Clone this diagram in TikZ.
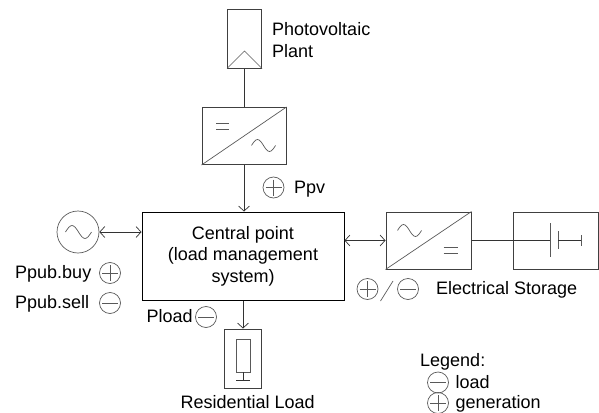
\documentclass[tikz,border=0pt]{standalone}
\usepackage{fontspec}
\setmainfont{Liberation Sans}
\usetikzlibrary{calc,arrows.meta}
\tikzset{
  box/.style={draw,line width=1pt,black!75,inner sep=0pt,minimum width=#1},
  lbl/.style={anchor=base west,inner sep=0pt,black,font=\fontsize{18}{21.5}\selectfont},
  sign/.style={circle,draw,black!65,line width=0.7pt,inner sep=0pt,minimum size=21pt},
  signplus/.style={sign,path picture={
    \draw[black!65,line width=0.7pt]
    (path picture bounding box.center)++(-8,0)--++(16,0)
    (path picture bounding box.center)++(0,-8)--++(0,16);}},
  signminus/.style={sign,path picture={
    \draw[black!65,line width=0.7pt]
    (path picture bounding box.center)++(-8,0)--++(16,0);}},
  wire/.style={line width=1pt,black!80},
  flow/.style={wire,-{Straight Barb[length=5pt,width=11pt,line width=0.7pt]}},
  flowboth/.style={wire,{Straight Barb[length=5pt,width=11pt,line width=0.7pt]}-{Straight Barb[length=5pt,width=11pt,line width=0.7pt]}},
  thin line/.style={line width=0.7pt,black!65}
}
\newcommand{\acwave}[2]{\draw[thin line](#1)++(-2*#2,0)
  sin ++(#2,-#2) cos ++(#2,#2) sin ++(#2,#2) cos ++(#2,-#2);}
\begin{document}
\begin{tikzpicture}[x=1pt,y=-1pt]
  \useasboundingbox (0,0) rectangle (599,412);

  \node[box=34pt,minimum height=58pt] (pv) at (244.5,39) {};
  \node[box=84pt,minimum height=57pt] (invpv) at (244,136) {};
  \node[box=202pt,minimum height=88pt,align=center,black,
    font=\fontsize{18}{21.5}\selectfont] (central) at (243,256)
    {Central point\\(load management\\system)};
  \node[box=85pt,minimum height=57pt] (invst) at (428.5,240.5) {};
  \node[box=85pt,minimum height=57pt] (storage) at (555.5,240.5) {};
  \node[box=37pt,minimum height=59pt] (load) at (243,358.5) {};
  \node[circle,draw,thin line,inner sep=0pt,minimum size=42pt] (grid) at (78,232) {};

  \coordinate (pvtop) at (244.5,51);
  \draw[thin line](pv.south west)--(pvtop)--(pv.south east);
  \draw[thin line](invpv.south west)--(invpv.north east);
  \draw[thin line](invst.south west)--(invst.north east);
  \draw[thin line](216,123)--(229,123)(216,129.5)--(229,129.5);
  \draw[thin line](443.5,247.5)--(457.5,247.5)(443.5,253.5)--(457.5,253.5);
  \acwave{263.5,145.5}{6}
  \acwave{409.5,230.5}{6}
  \acwave{78.5,232}{6.5}

  \draw[wire](pv.south)--(pv.south|-invpv.north);
  \draw[flow](invpv.south)--(invpv.south|-central.north);
  \draw[flowboth](grid.east)--(grid.east-|central.west);
  \draw[flowboth](central.east|-invst.west)--(invst.west);

  \coordinate (platea) at (550.5,240.5);
  \draw[wire](invst.east)--(platea);
  \draw[thin line](550.5,223)--(550.5,257);
  \draw[thin line](558,231)--(558,249);
  \draw[wire](558,240.5)--(581,240.5);
  \draw[thin line](581,235)--(581,246);

  \draw[flow](central.south-|load.north)--(load.north);
  \node[draw,thin line,inner sep=0pt,minimum width=14pt,minimum height=33pt] (resistor) at (243,355.5) {};
  \coordinate (groundmid) at (243,380);
  \draw[wire](resistor.south)--(groundmid);
  \draw[wire](236,380)--(250,380);

  \node[signplus] (signppv) at (273.5,187.5) {};
  \node[signplus] (signbuy) at (110,273) {};
  \node[signminus] (signsell) at (110,303) {};
  \node[signminus] (signload) at (206,317) {};
  \node[signplus] (signstgen) at (367.5,289) {};
  \node[signminus] (signstload) at (408,289) {};
  \coordinate (slasha) at (380.5,301);
  \coordinate (slashb) at (393,281);
  \draw[thin line](slasha)--(slashb);
  \node[signminus] (legminus) at (438,382.5) {};
  \node[signplus] (legplus) at (438,403) {};

  \node[lbl] (pvname) at (272,36) {Photovoltaic};
  \node[lbl] (pvnameb) at (272,58) {Plant};
  \node[lbl] (ppv) at (294,193) {Ppv};
  \node[lbl] (ppubbuy) at (15,278) {Ppub.buy};
  \node[lbl] (ppubsell) at (15,308) {Ppub.sell};
  \node[lbl] (pload) at (146.5,322) {Pload};
  \node[lbl] (stname) at (436,294) {Electrical Storage};
  \node[lbl] (loadname) at (180.5,408.5) {Residential Load};
  \node[lbl] (legend) at (420,366.5) {Legend:};
  \node[lbl] (legload) at (455.5,388.5) {load};
  \node[lbl] (leggen) at (455.5,408) {generation};
\end{tikzpicture}
\end{document}
